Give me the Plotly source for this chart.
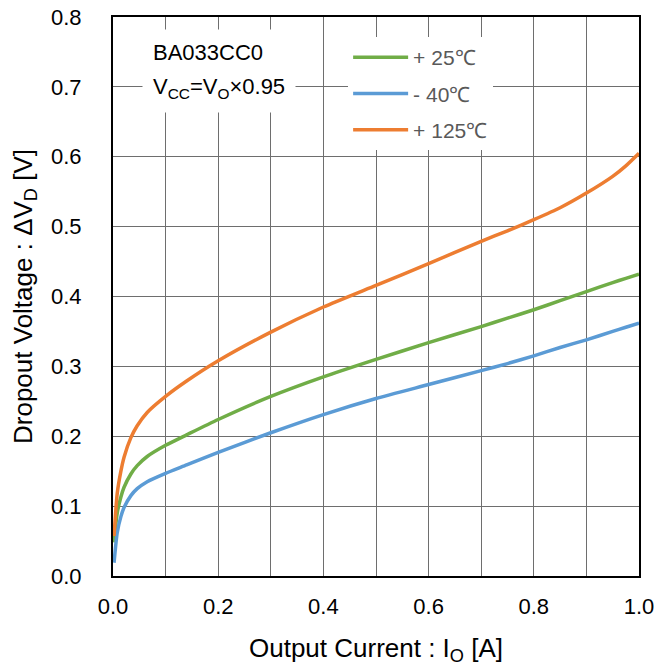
import plotly.graph_objects as go

current = [0.002, 0.008, 0.015, 0.021, 0.034, 0.046, 0.065, 0.1, 0.14, 0.2, 0.3, 0.4, 0.5, 0.6, 0.7, 0.75, 0.8, 0.85, 0.9, 0.95, 0.975, 1.0]
v_25 = [0.048, 0.090, 0.113, 0.127, 0.146, 0.158, 0.171, 0.187, 0.202, 0.224, 0.257, 0.285, 0.310, 0.334, 0.357, 0.369, 0.381, 0.394, 0.407, 0.420, 0.426, 0.432]
v_m40 = [0.019, 0.062, 0.085, 0.098, 0.115, 0.125, 0.135, 0.147, 0.159, 0.177, 0.205, 0.231, 0.254, 0.274, 0.294, 0.304, 0.315, 0.327, 0.338, 0.350, 0.356, 0.362]
v_125 = [0.057, 0.118, 0.150, 0.170, 0.198, 0.215, 0.234, 0.257, 0.279, 0.308, 0.349, 0.385, 0.416, 0.447, 0.479, 0.494, 0.510, 0.527, 0.548, 0.572, 0.587, 0.605]

names = ["+ 25\u2103", "- 40\u2103", "+ 125\u2103"]
colors = ["#70AD47", "#5B9BD5", "#ED7D31"]
series = [v_25, v_m40, v_125]

x_grid = [i / 10 for i in range(11)]
x_labels = [f"{v:.1f}" if i % 2 == 0 else "" for i, v in enumerate(x_grid)]
y_ticks = [i / 10 for i in range(9)]

fig = go.Figure()
for i, (nm, col, ys) in enumerate(zip(names, colors, series)):
    fig.add_trace(go.Scatter(x=current, y=ys, mode="lines", name=nm,
                             line=dict(color=col, width=3.5, shape="spline", smoothing=0.6),
                             legendgroup=str(i)))

font = "Arial, Liberation Sans, sans-serif"
# the page body adds an 8px offset, so the figure is 8px smaller than the window
fig.update_layout(
    width=660, height=660,
    margin=dict(l=105, r=29, t=9, b=92, autoexpand=False),
    paper_bgcolor="white", plot_bgcolor="white",
    font=dict(family=font, size=22, color="black"),
    showlegend=True,
    legend=dict(x=0.447, y=0.964, xanchor="left", yanchor="top",
                bgcolor="white", font=dict(size=21, color="#595959"),
                tracegroupgap=6, itemwidth=55),
    xaxis=dict(range=[0, 1.0], tickvals=x_grid, ticktext=x_labels,
               showgrid=True, gridcolor="#6e6e6e", gridwidth=1,
               showline=True, linecolor="black", linewidth=2, mirror=True,
               ticks="outside", ticklen=10, tickcolor="rgba(0,0,0,0)",
               ticklabeloverflow="allow",
               zeroline=False, automargin=False,
               title=dict(text="Output Current : I<sub>O</sub> [A]", standoff=20)),
    yaxis=dict(range=[0, 0.8], tickvals=y_ticks, ticktext=[f"{v:.1f}" for v in y_ticks],
               showgrid=True, gridcolor="#6e6e6e", gridwidth=1,
               showline=True, linecolor="black", linewidth=2, mirror=True,
               ticks="outside", ticklen=25, tickcolor="rgba(0,0,0,0)",
               ticklabeloverflow="allow",
               zeroline=False, automargin=False,
               title=dict(text="Dropout Voltage : \u0394V<sub>D</sub> [V]", standoff=12)),
    annotations=[
        dict(x=0.055, y=0.937, xref="paper", yref="paper", xanchor="left", yanchor="middle",
             align="left", showarrow=False, bgcolor="white", borderpad=10,
             text="BA033CC0", font=dict(size=22, color="black")),
        dict(x=0.055, y=0.873, xref="paper", yref="paper", xanchor="left", yanchor="middle",
             align="left", showarrow=False, bgcolor="white", borderpad=10,
             text="V<sub>CC</sub>=V<sub>O</sub>\u00d70.95", font=dict(size=22, color="black")),
    ],
)

fig.write_html("out.html")
